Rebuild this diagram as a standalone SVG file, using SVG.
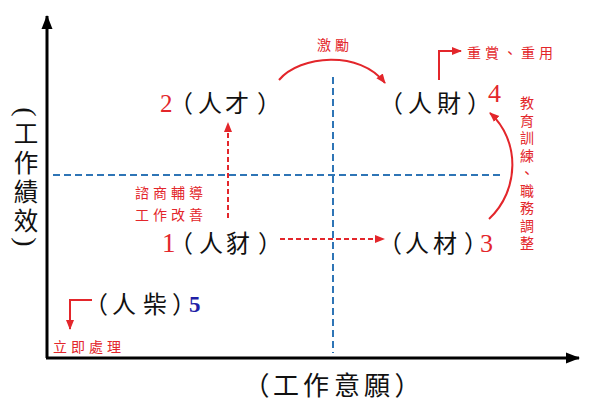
<svg xmlns="http://www.w3.org/2000/svg" width="591" height="406" viewBox="0 0 591 406">
<style>
.cjk{font-family:"Noto Sans CJK TC","Noto Sans CJK SC",sans-serif;fill:#111}
.cjv{font-family:"Liberation Sans","Noto Sans CJK TC","Noto Sans CJK SC",sans-serif;fill:#111}
.h{font-feature-settings:"halt" 1}
.num{font-family:"Liberation Serif",serif;fill:#e3262b}
.lbl{font-family:"Liberation Sans","Noto Sans CJK TC","Noto Sans CJK SC",sans-serif;fill:#e3262b;font-size:14px;letter-spacing:4px}
.axis{stroke:#000;stroke-width:3;fill:none}
.grid{stroke:#2e75b6;stroke-width:2;stroke-dasharray:7,4;fill:none}
.red{stroke:#e3262b;stroke-width:2;fill:none}
.reddash{stroke:#e3262b;stroke-width:2;stroke-dasharray:5,3;fill:none}
.par{font-family:"Liberation Serif",serif;fill:#111;font-size:28px}
</style>
<defs>
<marker id="ah" markerWidth="10" markerHeight="10" refX="9" refY="5" orient="auto" markerUnits="userSpaceOnUse"><path d="M0,1 L10,5 L0,9 Z" fill="#e3262b"/></marker>
<marker id="ab" markerWidth="14" markerHeight="12" refX="13" refY="6" orient="auto" markerUnits="userSpaceOnUse"><path d="M0,0.5 L14,6 L0,11.5 Z" fill="#000"/></marker>
</defs>
<g id="axes">
<path class="axis" d="M47,358 L47,16" marker-end="url(#ab)"/>
<path class="axis" d="M46,358 L579,358" marker-end="url(#ab)"/>
</g>
<g id="grid">
<path class="grid" d="M53,175 L500,175"/>
<path class="grid" d="M333,77 L333,353"/>
</g>
<g id="y-label">
<text class="par" x="26" y="112" text-anchor="middle" dominant-baseline="central" transform="rotate(90 26 112)">(</text>
<g class="cjv" font-size="24.5" text-anchor="middle">
<text x="26" y="143">工</text>
<text x="26" y="172">作</text>
<text x="26" y="201">績</text>
<text x="26" y="230">效</text>
</g>
<text class="par" x="26" y="242" text-anchor="middle" dominant-baseline="central" transform="rotate(90 26 242)">)</text>
</g>
<g id="x-label"><text class="cjk h" x="263 286 316 347 377 401" y="395" font-size="26" text-anchor="middle">（工作意願）</text></g>
<g id="node2"><text class="num" x="160" y="112" font-size="25">2</text><text class="cjk h" x="187 210 237 263" y="112" font-size="24" text-anchor="middle">（人才）</text></g>
<g id="node1"><text class="num" x="162" y="252" font-size="27">1</text><text class="cjk h" x="187 211 238 264" y="252" font-size="24" text-anchor="middle">（人豺）</text></g>
<g id="node4"><text class="cjk h" x="397 420 449 473" y="112" font-size="24" text-anchor="middle">（人財）</text><text class="num" x="488" y="102" font-size="26">4</text></g>
<g id="node3"><text class="cjk h" x="396 417 445 470" y="252" font-size="24" text-anchor="middle">（人材）</text><text class="num" x="480" y="252" font-size="26">3</text></g>
<g id="node5"><text class="cjk h" x="102 124 155 178" y="313" font-size="24" text-anchor="middle">（人柴）</text><text x="189" y="312" font-size="23" font-weight="bold" font-family="Liberation Serif,serif" fill="#1f1fa6">5</text></g>
<g id="connectors">
<path class="reddash" d="M228,218 L228,123" marker-end="url(#ah)"/>
<path class="reddash" d="M280,239 L384,239" marker-end="url(#ah)"/>
<path class="red" d="M279,80 C300,55 360,50 385,83" marker-end="url(#ah)"/>
<path class="red" d="M489,219 C520,190 520,140 490,113" marker-end="url(#ah)"/>
<path class="red" d="M439,80 L439,51 L461,51" marker-end="url(#ah)"/>
<path class="red" d="M92,300 L70,300 L70,329" marker-end="url(#ah)"/>
</g>
<g id="labels">
<text class="lbl" x="317" y="50">激勵</text>
<text class="lbl" x="467" y="58">重賞、重用</text>
<text class="lbl" x="135" y="198">諮商輔導</text>
<text class="lbl" x="135" y="220">工作改善</text>
<text class="lbl" x="53" y="352">立即處理</text>
<g class="lbl" text-anchor="middle" style="letter-spacing:0">
<text x="527" y="108">教</text>
<text x="527" y="125.5">育</text>
<text x="527" y="143">訓</text>
<text x="527" y="160.5">練</text>
<text x="527" y="178">、</text>
<text x="527" y="195.5">職</text>
<text x="527" y="213">務</text>
<text x="527" y="230.5">調</text>
<text x="527" y="248">整</text>
</g>
</g>
</svg>
